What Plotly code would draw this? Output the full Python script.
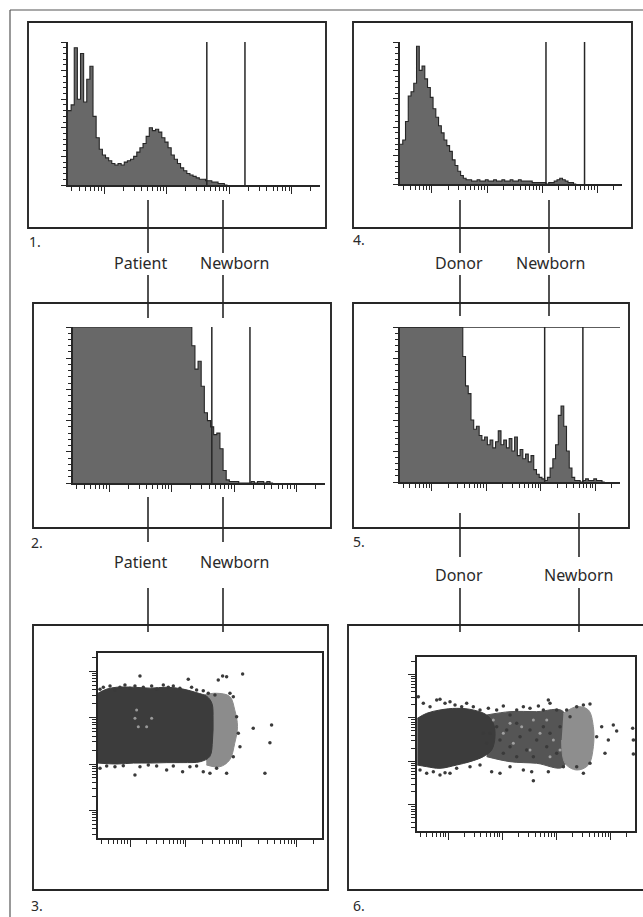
import numpy as np
import plotly.graph_objects as go

W, H = 643, 917

# ---------------- data ----------------
BIN_START = 0.42   # log10 fluorescence at the left edge of the first histogram bin
BIN_WIDTH = 0.05   # decades per histogram bin

# Panel 1 - patient sample, full scale (relative counts)
hist_patient_full = [52, 56, 96, 60, 92, 58, 74, 83, 48, 33, 25, 21, 19, 17, 15, 14, 15, 14, 16, 17,
                     18, 20, 23, 26, 29, 34, 40, 38, 39, 37, 33, 30, 26, 21, 18, 15, 12, 10, 8, 7,
                     6, 5, 4, 4, 3, 3, 2, 2, 1, 1, 0]
# Panel 4 - donor sample, full scale
hist_donor_full = [28, 31, 44, 62, 65, 71, 97, 80, 83, 74, 68, 61, 53, 47, 41, 36, 31, 27, 23, 17,
                   13, 9, 6, 4, 3, 3, 2, 2, 3, 2, 2, 3, 2, 2, 3, 2, 2, 3, 2, 2,
                   3, 2, 2, 3, 2, 2, 2, 2, 1, 1, 1, 1, 1, 0, 1, 1, 2, 3, 4, 3,
                   2, 1, 1, 0]
# Panel 2 - patient sample, expanded scale (clipped at 100)
hist_patient_zoom = [100, 100, 100, 100, 100, 100, 100, 100, 100, 100, 100, 100, 100, 100, 100, 100,
                     100, 100, 100, 100, 100, 100, 100, 100, 100, 100, 100, 100, 100, 100, 100, 100,
                     100, 100, 100, 100, 100, 100, 88, 73, 78, 62, 45, 40, 36, 31, 32, 22, 8, 2,
                     1, 1, 1, 0, 0, 0, 0, 1, 0, 1, 1, 0, 1, 0]
# Panel 5 - donor sample, expanded scale (clipped at 100)
hist_donor_zoom = [100, 100, 100, 100, 100, 100, 100, 100, 100, 100, 100, 100, 100, 100, 100, 100,
                   100, 100, 100, 100, 100, 100, 100, 81, 62, 57, 40, 34, 36, 30, 27, 29, 24, 27,
                   22, 26, 33, 24, 27, 22, 28, 20, 29, 17, 21, 15, 18, 13, 17, 8, 5, 3, 2, 1,
                   3, 9, 15, 24, 43, 49, 36, 20, 9, 3, 1, 1, 0, 1, 2, 1, 1, 2, 1, 1, 0]

gates_patient = [2.64, 3.25]
gates_donor = [3.07, 3.77]

# Panel 3 - patient dot plot (log10 FL x, log10 FL y)
p3_dense_x = [0.42, 0.58, 0.76, 1.06, 1.36, 1.66, 1.95, 2.20, 2.38, 2.47, 2.49, 2.48, 2.43, 2.26,
              1.95, 1.66, 1.36, 1.06, 0.76, 0.42]
p3_dense_y = [3.53, 3.62, 3.66, 3.66, 3.64, 3.66, 3.62, 3.54, 3.46, 3.31, 2.95, 2.52, 2.16, 2.05,
              2.03, 2.03, 2.02, 2.02, 2.00, 2.02]
p3_light_x = [2.31, 2.55, 2.79, 2.88, 2.93, 2.88, 2.79, 2.61, 2.37]
p3_light_y = [3.49, 3.53, 3.46, 3.17, 2.81, 2.45, 2.09, 1.94, 1.98]
p3_dots_x = [0.456, 0.516, 0.636, 0.725, 0.815, 0.905, 0.995, 1.085, 1.175, 1.235, 1.385, 1.475,
             1.595, 1.685, 1.775, 1.894, 2.044, 2.104, 2.194, 2.314, 2.404, 2.524, 2.584, 2.662,
             2.734, 2.794, 2.854, 3.022, 2.914, 2.944, 2.974, 3.213, 3.543, 3.513, 2.854,
             0.456, 0.576, 0.725, 0.875, 1.085, 1.175, 1.325, 1.475, 1.655, 1.775, 1.942, 2.074,
             2.194, 2.314, 2.434, 2.554, 2.734, 3.423]
p3_dots_y = [3.614, 3.658, 3.686, 3.600, 3.658, 3.708, 3.636, 3.686, 3.903, 3.658, 3.686, 3.614,
             3.708, 3.658, 3.686, 3.636, 3.831, 3.658, 3.600, 3.586, 3.528, 3.492, 3.816, 3.903,
             3.888, 3.528, 3.456, 3.946, 3.023, 2.663, 2.375, 2.771, 2.843, 2.461, 2.159,
             1.906, 1.957, 1.942, 1.964, 1.762, 1.942, 1.978, 1.957, 1.870, 1.957, 1.834, 1.942,
             1.957, 1.834, 1.798, 1.906, 1.798, 1.798]
p3_specks_x = [1.085, 1.145, 1.295, 1.385, 1.115]
p3_specks_y = [2.987, 2.807, 2.807, 2.987, 3.168]

# Panel 6 - donor dot plot
p6_dense_x = [0.426, 0.598, 0.845, 1.153, 1.461, 1.708, 1.831, 1.862, 1.800, 1.646, 1.400, 1.153,
              0.845, 0.598, 0.426]
p6_dense_y = [2.990, 3.105, 3.182, 3.220, 3.182, 3.067, 2.875, 2.569, 2.262, 2.109, 1.994, 1.917,
              1.841, 1.879, 1.917]
p6_mid_x = [1.708, 2.140, 2.633, 3.126, 3.126, 2.633, 2.140, 1.708]
p6_mid_y = [3.067, 3.144, 3.144, 3.144, 1.879, 1.956, 1.994, 2.109]
p6_light_x = [3.126, 3.372, 3.588, 3.680, 3.680, 3.588, 3.372, 3.156, 3.094]
p6_light_y = [3.105, 3.258, 3.182, 2.799, 2.339, 1.917, 1.802, 1.956, 2.492]
p6_dots_x = [0.445, 0.537, 0.661, 0.784, 0.845, 0.938, 1.030, 1.123, 1.246, 1.338, 1.461, 1.585,
             1.739, 1.893, 2.016, 2.140, 2.263, 2.386, 2.509, 2.664, 2.756, 2.848, 2.879, 3.002,
             3.187, 3.372, 3.496, 3.618, 3.249,
             1.770, 1.893, 1.954, 2.078, 2.140, 2.263, 2.325, 2.448, 2.509, 2.633, 2.756, 2.818,
             2.879, 3.002, 3.064, 1.646, 1.708, 2.016, 2.263, 2.571,
             0.476, 0.599, 0.722, 0.845, 0.938, 1.030, 1.153, 1.400, 1.585, 1.800, 1.954, 2.140,
             2.386, 2.540, 2.571, 2.848, 3.126, 3.372, 3.496, 3.618,
             3.741, 3.834, 3.957, 4.049, 4.111, 3.895, 4.407, 4.419, 4.419]
p6_dots_y = [3.488, 3.335, 3.258, 3.412, 3.427, 3.335, 3.373, 3.297, 3.258, 3.335, 3.258, 3.182,
             3.220, 3.182, 3.274, 3.067, 3.182, 3.258, 3.220, 3.274, 3.182, 3.412, 3.335, 3.182,
             3.182, 3.258, 3.297, 3.320, 3.028,
             2.645, 2.799, 2.492, 2.722, 2.339, 2.875, 2.569, 2.262, 2.722, 2.492, 2.799, 2.339,
             2.645, 2.186, 2.799, 2.645, 2.415, 2.186, 2.109, 2.109,
             1.802, 1.726, 1.764, 1.688, 1.741, 1.726, 1.841, 1.879, 1.917, 1.764, 1.726, 1.879,
             1.802, 1.764, 1.557, 1.764, 1.879, 1.879, 1.726, 1.956,
             2.569, 2.799, 2.492, 2.837, 2.699, 2.186, 2.760, 2.492, 2.170]
p6_specks_x = [1.831, 2.016, 2.201, 2.355, 2.509, 2.694, 2.818, 2.941, 3.064, 2.140, 2.571, 2.879]
p6_specks_y = [2.952, 2.645, 2.415, 2.799, 2.262, 2.645, 2.952, 2.492, 2.262, 2.875, 2.952, 2.109]

# ---------------- helpers ----------------
def px(x):
    return x / W


def py(y):
    return 1 - y / H


INK = "#262626"
FILL = "#686868"
X_RANGE = [0.42, 4.45]
Y_RANGE_LOG = [0.4, 4.4]
log_major = [1, 2, 3, 4]
log_minor = [np.log10(m) + k for k in range(0, 5) for m in range(2, 10)]

fig = go.Figure()

# axis name -> (x px0, x px1, y px top, y px bottom)
panels = {
    "1": (68, 320, 42, 185),
    "4": (400, 622, 42, 184),
    "2": (73, 325, 327, 483),
    "5": (400, 620, 327, 482),
    "3": (98, 322, 653, 838),
    "6": (417, 635, 657, 831),
}


def axname(k, letter):
    return f"{letter}axis" if k == "1" else f"{letter}axis{k}"


def ref(k, letter):
    return letter if k == "1" else f"{letter}{k}"


hist_data = {
    "1": hist_patient_full,
    "4": hist_donor_full,
    "2": hist_patient_zoom,
    "5": hist_donor_zoom,
}

for k, vals in hist_data.items():
    edges = [BIN_START + BIN_WIDTH * i for i in range(len(vals) + 1)]
    fig.add_trace(go.Scatter(
        x=edges, y=list(vals) + [0], mode="lines", line_shape="hv",
        fill="tozeroy", fillcolor=FILL, line=dict(color=INK, width=1.1),
        xaxis=ref(k, "x"), yaxis=ref(k, "y"), hoverinfo="skip"))


def cloud(k, xs, ys, color):
    fig.add_trace(go.Scatter(x=xs, y=ys, fill="toself", fillcolor=color, mode="lines",
                             line=dict(color=color, width=1), line_shape="spline",
                             xaxis=ref(k, "x"), yaxis=ref(k, "y"), hoverinfo="skip"))


def dots(k, xs, ys, color, size):
    fig.add_trace(go.Scatter(x=xs, y=ys, mode="markers",
                             marker=dict(color=color, size=size, line=dict(width=0)),
                             xaxis=ref(k, "x"), yaxis=ref(k, "y"), hoverinfo="skip"))


cloud("3", p3_light_x, p3_light_y, "#8c8c8c")
cloud("3", p3_dense_x, p3_dense_y, "#3c3c3c")
dots("3", p3_dots_x, p3_dots_y, "#3a3a3a", 3.5)
dots("3", p3_specks_x, p3_specks_y, "#9a9a9a", 3)

cloud("6", p6_mid_x, p6_mid_y, "#555555")
cloud("6", p6_light_x, p6_light_y, "#8e8e8e")
cloud("6", p6_dense_x, p6_dense_y, "#3c3c3c")
dots("6", p6_specks_x, p6_specks_y, "#a0a0a0", 3)
dots("6", p6_dots_x, p6_dots_y, "#3a3a3a", 3.5)

layout = dict(width=W, height=H, margin=dict(l=0, r=0, t=0, b=0),
              paper_bgcolor="white", plot_bgcolor="white", showlegend=False)

for k, (x0, x1, yt, yb) in panels.items():
    is_scatter = k in ("3", "6")
    xa = dict(domain=[px(x0), px(x1)], range=X_RANGE, showgrid=False, zeroline=False,
              showline=True, linecolor=INK, linewidth=1.6, mirror=is_scatter,
              tickmode="array", tickvals=log_major, ticks="outside", ticklen=7, tickwidth=1.4,
              tickcolor=INK, showticklabels=False,
              minor=dict(tickmode="array", tickvals=log_minor, ticks="outside", ticklen=4,
                         tickwidth=1.2, tickcolor=INK, showgrid=False),
              anchor=ref(k, "y"), fixedrange=True)
    if is_scatter:
        ya = dict(domain=[py(yb), py(yt)], range=Y_RANGE_LOG, showgrid=False, zeroline=False,
                  showline=True, linecolor=INK, linewidth=1.6, mirror=True,
                  tickmode="array", tickvals=log_major, ticks="outside", ticklen=7,
                  tickwidth=1.4, tickcolor=INK, showticklabels=False,
                  minor=dict(tickmode="array", tickvals=log_minor, ticks="outside", ticklen=4,
                             tickwidth=1.2, tickcolor=INK, showgrid=False),
                  anchor=ref(k, "x"), fixedrange=True)
    else:
        ya = dict(domain=[py(yb), py(yt)], range=[0, 100], showgrid=False, zeroline=False,
                  showline=True, linecolor=INK, linewidth=1.6,
                  tickmode="linear", tick0=0, dtick=20, ticks="outside", ticklen=5,
                  tickwidth=1.3, tickcolor=INK, showticklabels=False,
                  minor=dict(dtick=4, ticks="outside", ticklen=3, tickwidth=1.1,
                             tickcolor=INK, showgrid=False),
                  anchor=ref(k, "x"), fixedrange=True)
    layout[axname(k, "x")] = xa
    layout[axname(k, "y")] = ya

shapes = []


def line(x0, y0, x1, y1, w=1.6, c=INK):
    shapes.append(dict(type="line", xref="paper", yref="paper",
                       x0=px(x0), y0=py(y0), x1=px(x1), y1=py(y1),
                       line=dict(color=c, width=w)))


def rect(x0, y0, x1, y1, w=1.9):
    shapes.append(dict(type="rect", xref="paper", yref="paper",
                       x0=px(x0), y0=py(y0), x1=px(x1), y1=py(y1),
                       line=dict(color=INK, width=w), fillcolor="rgba(0,0,0,0)", layer="below"))


# outer border of the figure
line(10, 10, 650, 10, w=1.2, c="#555555")
line(10, 10, 10, 925, w=1.2, c="#555555")

# panel frames
rect(28, 22, 326, 228)
rect(353, 22, 632, 228)
rect(33, 303, 331, 528)
rect(353, 303, 629, 528)
rect(33, 625, 328, 890)
rect(348, 625, 660, 890)

# gate markers on the histograms
for k, gates in (("1", gates_patient), ("2", gates_patient), ("4", gates_donor), ("5", gates_donor)):
    for g in gates:
        shapes.append(dict(type="line", xref=ref(k, "x"), yref=ref(k, "y"),
                           x0=g, x1=g, y0=0, y1=100, line=dict(color=INK, width=1.5)))
shapes.append(dict(type="line", xref="x5 domain", yref="y5", x0=0, x1=1, y0=100, y1=100,
                   line=dict(color=INK, width=1.5)))

# connectors between panels
for x in (148, 223):
    line(x, 200, x, 253)
    line(x, 275, x, 318)
    line(x, 497, x, 542)
    line(x, 588, x, 632)
for x in (460, 549):
    line(x, 200, x, 253)
    line(x, 275, x, 316)
for x in (460, 579):
    line(x, 513, x, 557)
    line(x, 588, x, 632)

layout["shapes"] = shapes

ann = []
LBL = dict(family="Noto Sans, Open Sans, sans-serif", size=16, color="#2a2a2a")
NUM = dict(family="Noto Sans, Open Sans, sans-serif", size=14, color="#2a2a2a")


def text(t, x, y, font, xanchor="center"):
    ann.append(dict(text=t, x=px(x), y=py(y), xref="paper", yref="paper", showarrow=False,
                    xanchor=xanchor, yanchor="middle", font=font))


text("Patient", 140, 263, LBL)
text("Newborn", 234, 263, LBL)
text("Donor", 459, 263, LBL)
text("Newborn", 550, 263, LBL)
text("Patient", 140, 562, LBL)
text("Newborn", 234, 562, LBL)
text("Donor", 459, 575, LBL)
text("Newborn", 578, 575, LBL)

text("1.", 27, 242, NUM, "left")
text("4.", 351, 240, NUM, "left")
text("2.", 29, 542, NUM, "left")
text("5.", 351, 541, NUM, "left")
text("3.", 29, 905, NUM, "left")
text("6.", 351, 905, NUM, "left")

layout["annotations"] = ann
fig.update_layout(**layout)
fig.write_html("out.html", config={"displayModeBar": False},
               post_script="document.body.style.margin='0px';document.body.style.overflow='hidden';")
